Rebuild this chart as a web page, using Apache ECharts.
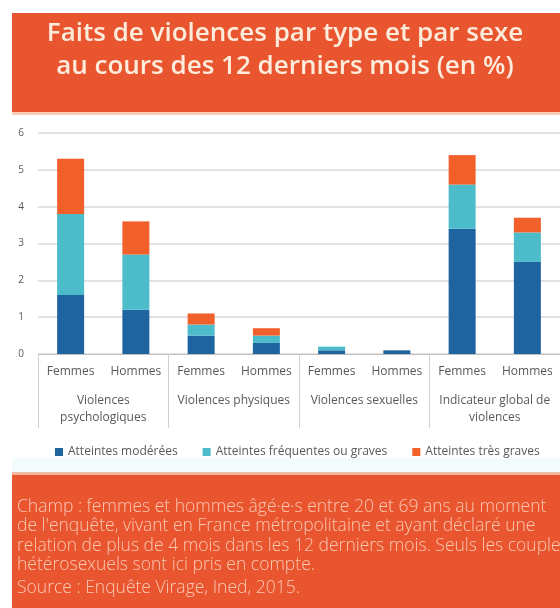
<!DOCTYPE html>
<html><head><meta charset="utf-8">
<script src="https://cdn.jsdelivr.net/npm/echarts@6/dist/echarts.min.js"></script>
<style>html,body{margin:0;padding:0;background:#fff}#c{width:560px;height:608px}</style>
</head><body><div id="c"></div>
<script>
const categories = ['Femmes','Hommes','Femmes','Hommes','Femmes','Hommes','Femmes','Hommes'];
const groups = ['Violences\npsychologiques','Violences physiques','Violences sexuelles','Indicateur global de\nviolences'];
const seriesNames = ['Atteintes modérées','Atteintes fréquentes ou graves','Atteintes très graves'];
const moderees   = [1.6, 1.2, 0.5, 0.3, 0.1, 0.1, 3.4, 2.5];
const frequentes = [2.2, 1.5, 0.3, 0.2, 0.1, 0.0, 1.2, 0.8];
const tresGraves = [1.5, 0.9, 0.3, 0.2, 0.0, 0.0, 0.8, 0.4];
const yTicks = [0, 1, 2, 3, 4, 5, 6];
const titleLines = ['Faits de violences par type et par sexe', 'au cours des 12 derniers mois (en %)'];
const footerLines = [
  "Champ : femmes et hommes âgé·e·s entre 20 et 69 ans au moment",
  "de l'enquête, vivant en France métropolitaine et ayant déclaré une",
  "relation de plus de 4 mois dans les 12 derniers mois. Seuls les couples",
  "hétérosexuels sont ici pris en compte."
];
const sourceLine = "Source : Enquête Virage, Ined, 2015.";

const colors = ['#1d64a1', '#4cbccb', '#f1602a'];
const FONT = 'Open Sans';
const chart = echarts.init(document.getElementById('c'), null, {renderer:'canvas'});
const values = [moderees, frequentes, tresGraves];
chart.setOption({
  animation: false,
  textStyle: {fontFamily: FONT},
  color: colors,
  graphic: [
    {type:'rect', shape:{x:12, y:13, width:548, height:99}, style:{fill:'#e8552f'}, z:0},
    {type:'rect', shape:{x:12, y:112, width:548, height:3}, style:{fill:'#f8cdb8'}, z:0},
    {type:'text', x:285, y:34, style:{text:titleLines[0], fill:'#fdebdc', font:'600 26px "Open Sans"', textAlign:'center', textVerticalAlign:'middle'}, z:2},
    {type:'text', x:285, y:67, style:{text:titleLines[1], fill:'#fdebdc', font:'600 26px "Open Sans"', textAlign:'center', textVerticalAlign:'middle'}, z:2},
    {type:'rect', shape:{x:12, y:458, width:548, height:14}, style:{fill:'#f3fbfd'}, z:0},
    {type:'rect', shape:{x:12, y:472, width:548, height:3}, style:{fill:'#f6b8a0'}, z:0},
    {type:'rect', shape:{x:12, y:475, width:548, height:133}, style:{fill:'#e8552f'}, z:0},
    {type:'text', x:17, y:497, style:{text:footerLines.join('\n'), fill:'#fbc8b2', font:'300 17.5px "Open Sans"', lineHeight:19.5}, z:2},
    {type:'text', x:17, y:579, style:{text:sourceLine, fill:'#fbc8b2', font:'300 17.5px "Open Sans"'}, z:2}
  ],
  legend: {
    data: seriesNames, left: 50, top: 441, itemWidth: 8, itemHeight: 8, itemGap: 25,
    icon: 'rect', textStyle: {fontSize: 12, color: '#595959', fontFamily: FONT}
  },
  grid: {left: 38, top: 133, width: 526, height: 221, containLabel: false},
  xAxis: [
    {type:'category', data: categories, position:'bottom',
     axisLine:{show:true, lineStyle:{color:'#bfbfbf'}}, axisTick:{show:false},
     axisLabel:{margin:12, fontSize:12, color:'#595959', fontFamily:FONT, interval:0}},
    {type:'category', data: groups, position:'bottom',
     axisLine:{show:false}, axisTick:{show:true, length:74, lineStyle:{color:'#d0d0d0'}},
     axisLabel:{margin:38, fontSize:12, color:'#595959', fontFamily:FONT, lineHeight:17, interval:0, verticalAlign:'top'}}
  ],
  yAxis: {type:'value', min: yTicks[0], max: yTicks[yTicks.length-1], interval: 1,
    axisLine:{show:false}, axisTick:{show:false},
    axisLabel:{margin:14, fontSize:10, color:'#595959', fontFamily:FONT},
    splitLine:{lineStyle:{color:'#d9d9d9', width:1.5}}},
  series: seriesNames.map((n,i)=>({name:n, type:'bar', stack:'s', data: values[i], barWidth:27, xAxisIndex:0, itemStyle:{color:colors[i]}}))
});
</script></body></html>
